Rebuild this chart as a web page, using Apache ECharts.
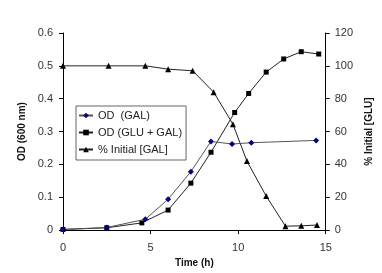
<!DOCTYPE html>
<html><head><meta charset="utf-8">
<script src="https://cdn.jsdelivr.net/npm/echarts@6/dist/echarts.min.js"></script>
<style>html,body{margin:0;padding:0;background:#fff}#c{width:382px;height:273px}</style>
</head><body><div id="c"></div>
<script>
var galTime = [0, 2.5, 4.7, 6, 7.3, 8.45, 9.65, 10.75, 14.45];
var galOD = [0.002, 0.008, 0.033, 0.094, 0.178, 0.27, 0.262, 0.266, 0.273];
var mixTime = [0, 2.5, 4.5, 6, 7.3, 8.45, 9.8, 10.6, 11.6, 12.6, 13.6, 14.6];
var mixOD = [0.002, 0.007, 0.022, 0.061, 0.143, 0.237, 0.358, 0.416, 0.481, 0.521, 0.543, 0.536];
var pctTime = [0, 2.6, 4.7, 6, 7.4, 8.6, 9.7, 10.5, 11.6, 12.7, 13.6, 14.5];
var pctGLU = [100, 100, 100, 98, 97, 84, 64.5, 42, 20.7, 2.4, 2.6, 3.1];
var seriesNames = ['OD  (GAL)', 'OD (GLU + GAL)', '% Initial [GAL]'];

function zip(a, b) { return a.map(function (v, i) { return [v, b[i]]; }); }

var font = 'Liberation Sans, Arial, sans-serif';
var chart = echarts.init(document.getElementById('c'), null, {renderer: 'canvas'});
chart.setOption({
  animation: false,
  backgroundColor: '#fff',
  textStyle: {fontFamily: font},
  grid: {left: 63, right: 52, top: 33, bottom: 42, containLabel: false},
  legend: {
    data: seriesNames,
    orient: 'vertical',
    left: 76, top: 106,
    padding: [4, 4, 5, 2],
    itemGap: 6,
    itemWidth: 14, itemHeight: 7,
    borderColor: '#666', borderWidth: 1,
    backgroundColor: '#fff',
    textStyle: {fontSize: 11, color: '#222', fontFamily: font}
  },
  xAxis: {
    type: 'value', min: 0, max: 15, interval: 5,
    name: 'Time (h)', nameLocation: 'middle', nameGap: 22,
    nameTextStyle: {fontWeight: 'bold', fontSize: 10, color: '#111', fontFamily: font},
    axisLine: {lineStyle: {color: '#000', width: 1}},
    axisTick: {show: true, length: 4, lineStyle: {color: '#000'}},
    axisLabel: {fontSize: 11, color: '#333', margin: 12, fontFamily: font},
    splitLine: {show: false}
  },
  yAxis: [{
    type: 'value', min: 0, max: 0.6, interval: 0.1, position: 'left',
    name: 'OD (600 nm)', nameLocation: 'middle', nameGap: 27, nameRotate: 90,
    nameTextStyle: {fontWeight: 'bold', fontSize: 10, color: '#111', fontFamily: font},
    axisLine: {show: true, lineStyle: {color: '#000', width: 1}},
    axisTick: {show: true, length: 4, lineStyle: {color: '#000'}},
    axisLabel: {fontSize: 11, color: '#333', margin: 10, fontFamily: font,
      formatter: function (v) { return String(+v.toFixed(1)); }},
    splitLine: {show: false}
  }, {
    type: 'value', min: 0, max: 120, interval: 20, position: 'right',
    name: '% Initial [GLU]', nameLocation: 'middle', nameGap: 32, nameRotate: 90,
    nameTextStyle: {fontWeight: 'bold', fontSize: 10, color: '#111', fontFamily: font},
    axisLine: {show: true, lineStyle: {color: '#000', width: 1}},
    axisTick: {show: true, length: 4, lineStyle: {color: '#000'}},
    axisLabel: {fontSize: 11, color: '#333', margin: 9, fontFamily: font},
    splitLine: {show: false}
  }],
  series: [{
    name: seriesNames[2], type: 'line', yAxisIndex: 1, z: 2,
    data: zip(pctTime, pctGLU),
    symbol: 'triangle', symbolSize: 6,
    lineStyle: {color: '#222', width: 1},
    itemStyle: {color: '#000'}
  }, {
    name: seriesNames[1], type: 'line', yAxisIndex: 0, z: 3,
    data: zip(mixTime, mixOD),
    symbol: 'rect', symbolSize: 5,
    lineStyle: {color: '#222', width: 1},
    itemStyle: {color: '#000'}
  }, {
    name: seriesNames[0], type: 'line', yAxisIndex: 0, z: 4,
    data: zip(galTime, galOD),
    symbol: 'diamond', symbolSize: 6,
    lineStyle: {color: '#555', width: 1},
    itemStyle: {color: '#000080'}
  }]
});
</script></body></html>
